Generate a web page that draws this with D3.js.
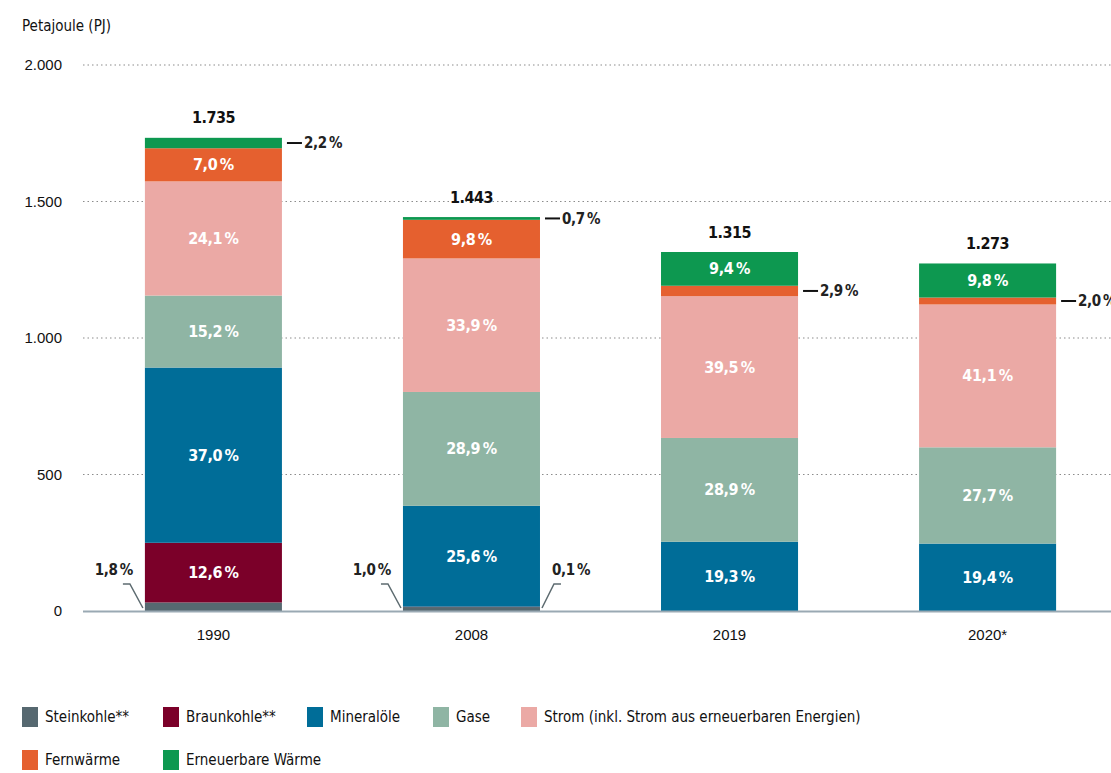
<!DOCTYPE html>
<html>
<head>
<meta charset="utf-8">
<script src="https://cdn.jsdelivr.net/npm/d3@7"></script>
<style>
  html, body { margin: 0; padding: 0; background: #fff; }
  svg { display: block; font-family: "Liberation Sans Narrow", "DejaVu Sans Condensed", "Roboto", sans-serif; }
</style>
</head>
<body>
<div id="chart"></div>
<script>
// Endenergieverbrauch der Haushalte, Anteile je Energieträger
const years = ['1990', '2008', '2019', '2020*'];
const totals = [1735, 1443, 1315, 1273];
const categories = ['Steinkohle**', 'Braunkohle**', 'Mineralöle', 'Gase',
  'Strom (inkl. Strom aus erneuerbaren Energien)', 'Fernwärme', 'Erneuerbare Wärme'];
const shareSteinkohle = [1.8, 1.0, 0, 0];
const shareBraunkohle = [12.6, 0.1, 0, 0];
const shareMineraloele = [37.0, 25.6, 19.3, 19.4];
const shareGase = [15.2, 28.9, 28.9, 27.7];
const shareStrom = [24.1, 33.9, 39.5, 41.1];
const shareFernwaerme = [7.0, 9.8, 2.9, 2.0];
const shareErneuerbar = [2.2, 0.7, 9.4, 9.8];
const yTicks = [0, 500, 1000, 1500, 2000];

const shares = [shareSteinkohle, shareBraunkohle, shareMineraloele, shareGase,
  shareStrom, shareFernwaerme, shareErneuerbar];
const colors = ['#566870', '#7b0029', '#006d98', '#8fb5a4', '#eba9a5', '#e5602f', '#0d9850'];

const de = d3.formatLocale({ decimal: ',', thousands: '.', grouping: [3], currency: ['', ' €'] });
const fmtInt = de.format(',d');
const fmtPct = v => de.format('.1f')(v) + '\u2009%';

const width = 1111, height = 773;
const svg = d3.select('#chart').append('svg')
  .attr('width', width)
  .attr('height', height);

const y = d3.scaleLinear().domain([0, 2000]).range([611, 65]);
const x = d3.scaleBand().domain(years).range([84, 1117])
  .paddingInner(0.469).paddingOuter(0.236);

// rows for stacking
const rows = years.map((yr, i) => {
  const r = { year: yr, total: totals[i] };
  categories.forEach((c, k) => { r[c] = totals[i] * shares[k][i] / 100; r['pct_' + k] = shares[k][i]; });
  return r;
});
const series = d3.stack().keys(categories)(rows);

// unit label
svg.append('text')
  .attr('x', 22).attr('y', 31)
  .style('font-size', '15px').style('fill', '#111')
  .text('Petajoule (PJ)');

// dotted grid
svg.append('g').selectAll('line')
  .data(yTicks.filter(d => d > 0))
  .join('line')
  .attr('x1', 83).attr('x2', width)
  .attr('y1', d => y(d)).attr('y2', d => y(d))
  .attr('stroke', '#8c8c8c')
  .attr('stroke-width', 1.2)
  .attr('stroke-dasharray', '1.5,3');

// y axis labels
const yAxis = svg.append('g')
  .attr('transform', 'translate(62,0)')
  .call(d3.axisLeft(y).tickValues(yTicks).tickSize(0).tickPadding(0).tickFormat(fmtInt));
yAxis.select('.domain').remove();
yAxis.selectAll('text')
  .style('font-family', 'inherit')
  .style('font-size', '15px')
  .style('fill', '#111');

// bars
const layer = svg.append('g').selectAll('g')
  .data(series)
  .join('g')
  .attr('fill', (d, i) => colors[i]);

layer.selectAll('rect')
  .data(d => d)
  .join('rect')
  .attr('x', d => x(d.data.year))
  .attr('width', x.bandwidth())
  .attr('y', d => y(d[1]))
  .attr('height', d => Math.max(0, y(d[0]) - y(d[1])));

// zero line
svg.append('line')
  .attr('x1', 83).attr('x2', width)
  .attr('y1', y(0) + 0.5).attr('y2', y(0) + 0.5)
  .attr('stroke', '#9aa9b3')
  .attr('stroke-width', 2);

// x axis labels
const xAxis = svg.append('g')
  .attr('transform', `translate(0,${y(0) + 18})`)
  .call(d3.axisBottom(x).tickSize(0).tickPadding(0));
xAxis.select('.domain').remove();
xAxis.selectAll('text')
  .style('font-family', 'inherit')
  .style('font-size', '15px')
  .style('fill', '#111');

// totals
svg.append('g').selectAll('text')
  .data(rows)
  .join('text')
  .attr('x', d => x(d.year) + x.bandwidth() / 2)
  .attr('y', d => y(d.total) - 14)
  .attr('text-anchor', 'middle')
  .style('font-size', '16px')
  .style('font-weight', 'bold')
  .style('letter-spacing', '-0.5px')
  .style('fill', '#111')
  .text(d => fmtInt(d.total));

// segment labels
const labels = svg.append('g')
  .style('letter-spacing', '-0.4px');
series.forEach((s, k) => {
  s.forEach(d => {
    const pct = d.data['pct_' + k];
    if (!pct) return;
    const left = x(d.data.year), right = left + x.bandwidth();
    const mid = (y(d[0]) + y(d[1])) / 2;
    if (pct >= 3) {
      labels.append('text')
        .attr('x', left + x.bandwidth() / 2)
        .attr('y', mid)
        .attr('dy', '0.35em')
        .attr('text-anchor', 'middle')
        .style('font-size', '16px')
        .style('font-weight', 'bold')
        .style('fill', '#fff')
        .text(fmtPct(pct));
    } else if (k === 0) {
      // leader to the left at the bar foot
      const y0 = y(0);
      labels.append('path')
        .attr('d', `M${left - 22},${y0 - 27}L${left - 15},${y0 - 27}L${left - 2},${y0 - 3}`)
        .attr('fill', 'none').attr('stroke', '#5d6b70').attr('stroke-width', 1.5);
      labels.append('text')
        .attr('x', left - 12).attr('y', y0 - 36)
        .attr('text-anchor', 'end')
        .style('font-size', '15px').style('font-weight', 'bold').style('fill', '#222')
        .text(fmtPct(pct));
    } else if (k === 1) {
      // leader to the right at the bar foot
      const y0 = y(0);
      labels.append('path')
        .attr('d', `M${right + 2},${y0 - 3}L${right + 14},${y0 - 27}L${right + 21},${y0 - 27}`)
        .attr('fill', 'none').attr('stroke', '#5d6b70').attr('stroke-width', 1.5);
      labels.append('text')
        .attr('x', right + 12).attr('y', y0 - 36)
        .style('font-size', '15px').style('font-weight', 'bold').style('fill', '#222')
        .text(fmtPct(pct));
    } else {
      labels.append('line')
        .attr('x1', right + 5).attr('x2', right + 20)
        .attr('y1', mid).attr('y2', mid)
        .attr('stroke', '#111').attr('stroke-width', 2);
      labels.append('text')
        .attr('x', right + 22).attr('y', mid)
        .attr('dy', '0.35em')
        .style('font-size', '15px').style('font-weight', 'bold').style('fill', '#222')
        .text(fmtPct(pct));
    }
  });
});

// legend
const legendPos = [[22, 717], [163, 717], [307, 717], [433, 717], [521, 717], [22, 760], [163, 760]];
const legend = svg.append('g').selectAll('g')
  .data(categories)
  .join('g')
  .attr('transform', (d, i) => `translate(${legendPos[i][0]},${legendPos[i][1]})`);
legend.append('rect')
  .attr('x', 0).attr('y', -10)
  .attr('width', 16).attr('height', 20)
  .attr('fill', (d, i) => colors[i]);
legend.append('text')
  .attr('x', 23).attr('y', 0).attr('dy', '0.35em')
  .style('font-size', '15px').style('fill', '#111')
  .text(d => d);
</script>
</body>
</html>
